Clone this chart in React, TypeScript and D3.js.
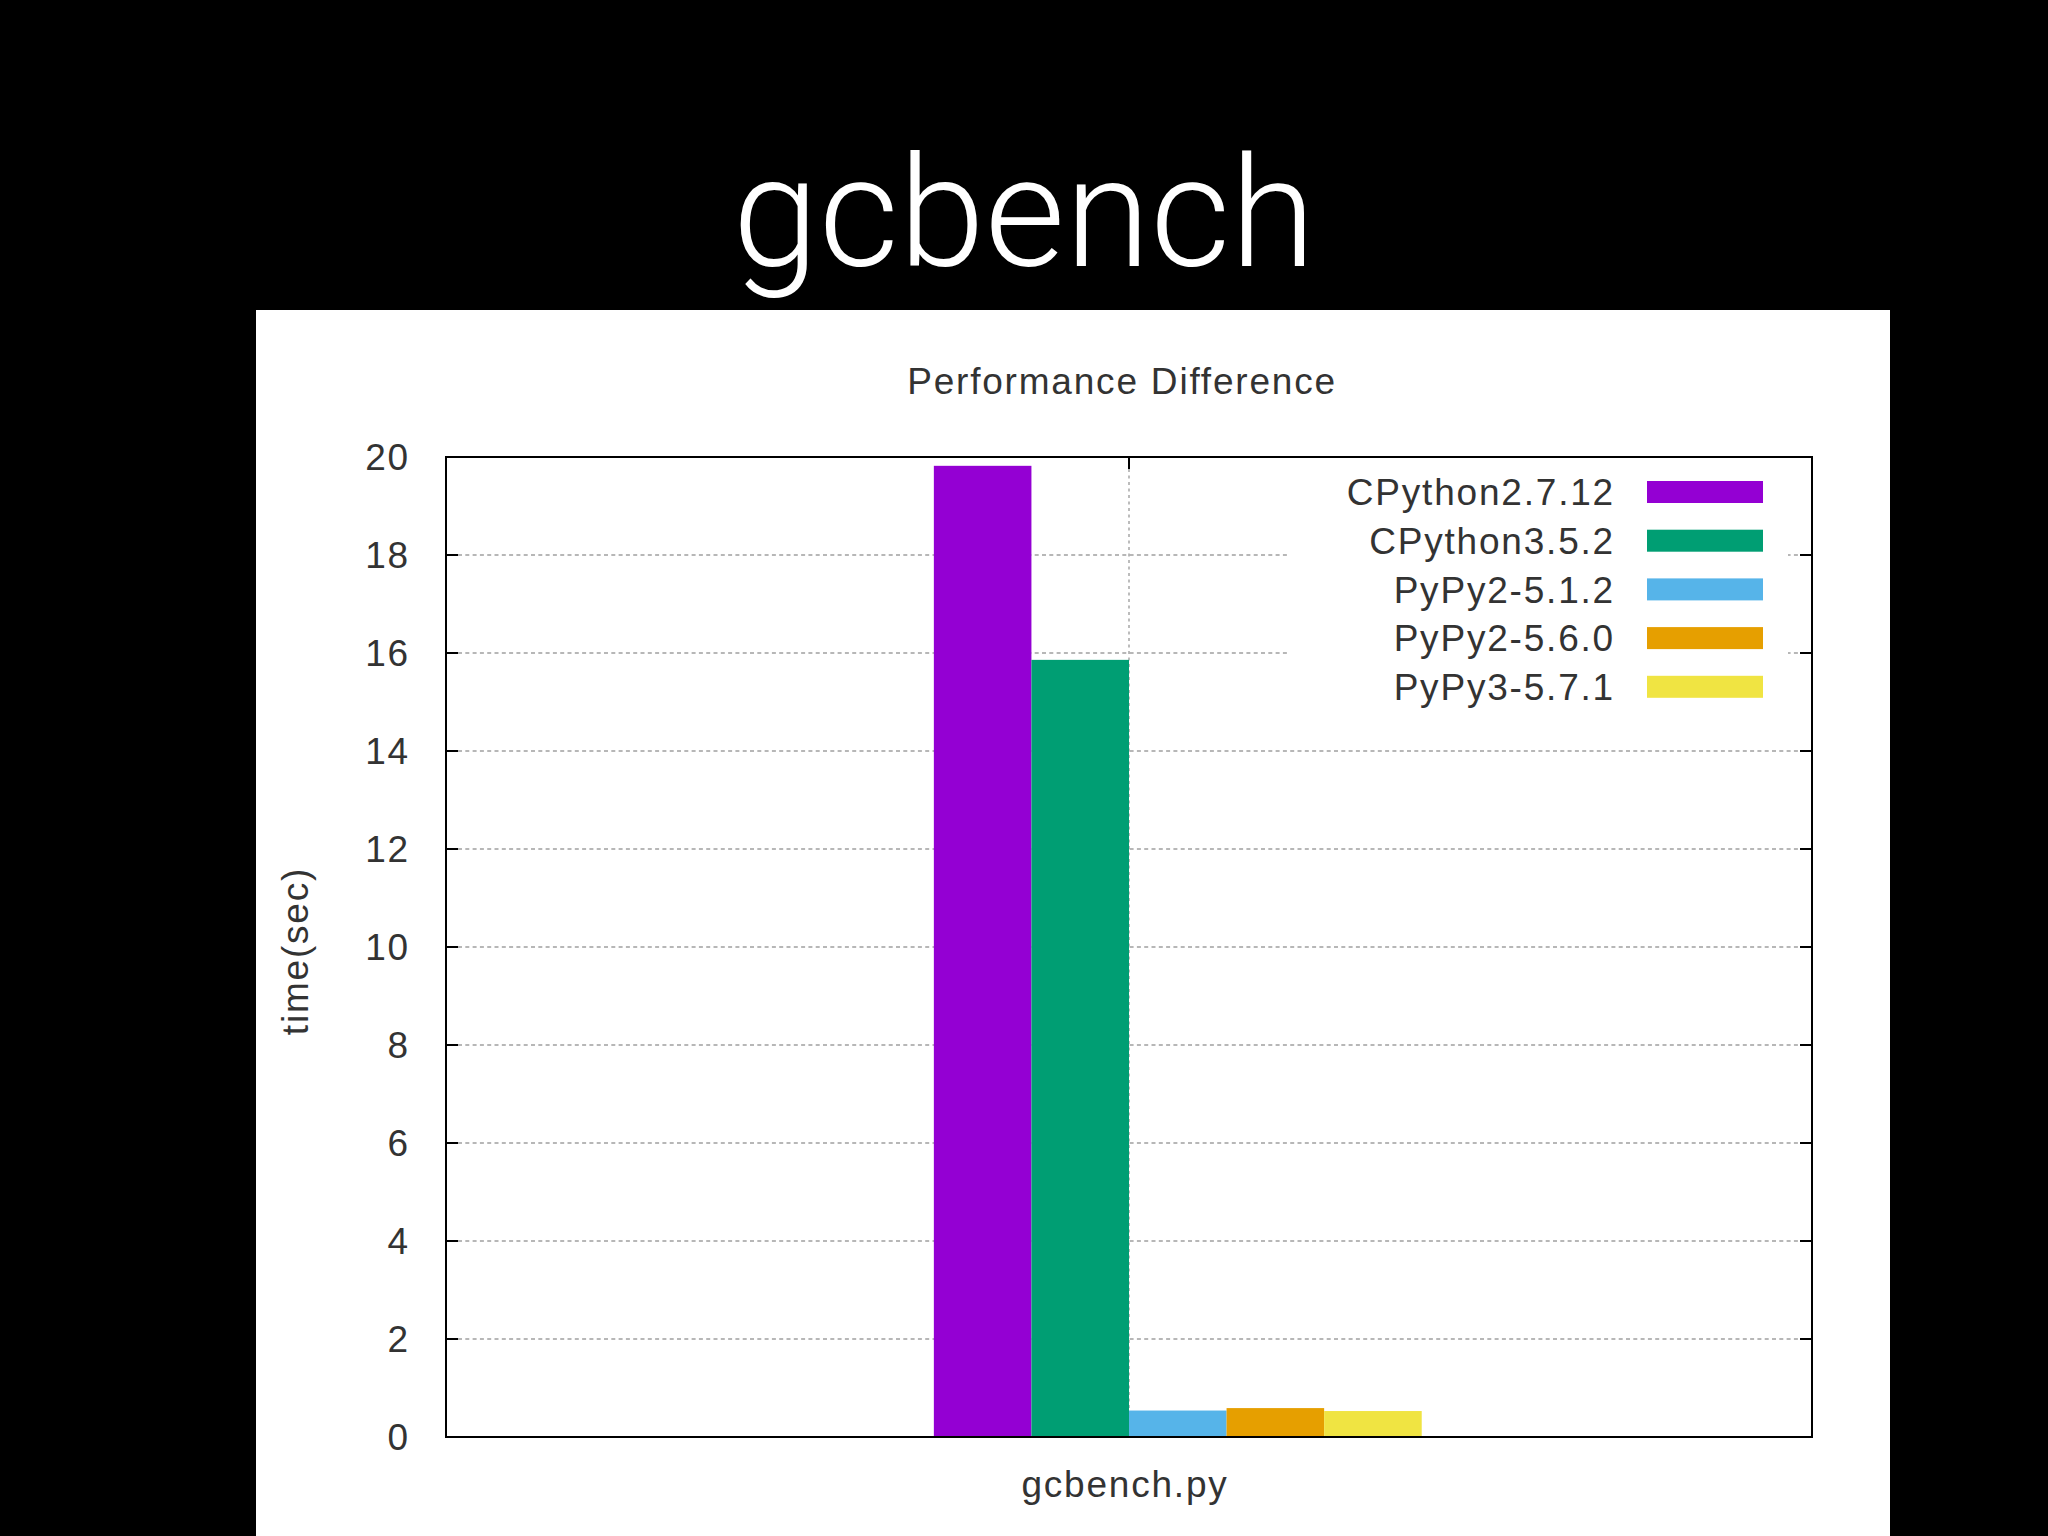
import * as d3 from "d3";

// benchmark results (seconds)
const seriesNames = ["CPython2.7.12", "CPython3.5.2", "PyPy2-5.1.2", "PyPy2-5.6.0", "PyPy3-5.7.1"];
const seriesValues = [19.82, 15.86, 0.54, 0.59, 0.53];
const seriesColors = ["#9400d3", "#009e73", "#56b4e9", "#e69f00", "#f0e442"];
const category = "gcbench.py";
const yTicks = [0, 2, 4, 6, 8, 10, 12, 14, 16, 18, 20];

const W = 2048;
const H = 1536;
const FONT = "'Liberation Sans', Arial, sans-serif";

export default function App() {
  const plot = { left: 446, right: 1812, top: 457, bottom: 1437 };

  const y = d3.scaleLinear().domain([0, 20]).range([plot.bottom, plot.top]);
  const x = d3.scaleLinear().domain([-1, 1]).range([plot.left, plot.right]);

  // gnuplot clustered histogram: 5 boxes of width 1/7 starting at -2/7
  const n = seriesNames.length;
  const boxW = 1 / (n + 2);
  const band = d3
    .scaleBand()
    .domain(seriesNames)
    .range([x(-2 * boxW), x((n - 2) * boxW)])
    .padding(0);

  const tickLen = 12;
  const gridColor = "#a0a0a0";

  // opaque key box
  const key = { x0: 1287, x1: 1788, y0: 466, y1: 712, textRight: 1615, sampleX: 1647, sampleW: 116, row0: 492, rowH: 48.7 };

  return (
    <svg
      width={W}
      height={H}
      style={{ position: "absolute", left: 0, top: 0, display: "block" }}
    >
      <rect x={0} y={0} width={W} height={H} fill="#000" />

      {/* slide title */}
      <text
        x={W / 2}
        y={266}
        textAnchor="middle"
        fontSize={154}
        fontWeight={300}
        fontFamily="Roboto, 'Open Sans', 'Liberation Sans', sans-serif"
        fill="#fff"
        textLength={583}
        lengthAdjust="spacingAndGlyphs"
      >
        gcbench
      </text>

      {/* white chart panel */}
      <rect x={256} y={310} width={1890 - 256} height={H - 310} fill="#fff" />

      <g fontFamily={FONT} fill="#333" letterSpacing={1.8}>
        <text x={1122} y={394} textAnchor="middle" fontSize={37}>
          Performance Difference
        </text>

        {/* grid lines */}
        {yTicks
          .filter((t) => t > 0 && t < 20)
          .map((t) => (
            <line
              key={`g${t}`}
              x1={plot.left + tickLen}
              x2={plot.right - tickLen}
              y1={y(t)}
              y2={y(t)}
              stroke={gridColor}
              strokeWidth={1.4}
              strokeDasharray="4,3.3"
            />
          ))}
        <line
          x1={x(0)}
          x2={x(0)}
          y1={plot.top + tickLen}
          y2={plot.bottom}
          stroke={gridColor}
          strokeWidth={1.4}
          strokeDasharray="3,3.5"
        />

        {/* bars */}
        {seriesNames.map((s, i) => (
          <rect
            key={s}
            x={band(s)}
            y={y(seriesValues[i])}
            width={band.bandwidth()}
            height={y(0) - y(seriesValues[i])}
            fill={seriesColors[i]}
          />
        ))}

        {/* opaque key */}
        <rect x={key.x0} y={key.y0} width={key.x1 - key.x0} height={key.y1 - key.y0} fill="#fff" />
        {seriesNames.map((s, i) => {
          const cy = key.row0 + i * key.rowH;
          return (
            <g key={`k${s}`}>
              <text x={key.textRight} y={cy} dy="0.36em" textAnchor="end" fontSize={37}>
                {s}
              </text>
              <rect x={key.sampleX} y={cy - 11} width={key.sampleW} height={22} fill={seriesColors[i]} />
            </g>
          );
        })}

        {/* y ticks and labels */}
        {yTicks.map((t) => (
          <g key={`t${t}`}>
            <line x1={plot.left} x2={plot.left + tickLen} y1={y(t)} y2={y(t)} stroke="#000" strokeWidth={2} />
            <line x1={plot.right - tickLen} x2={plot.right} y1={y(t)} y2={y(t)} stroke="#000" strokeWidth={2} />
            <text x={410} y={y(t)} dy="0.36em" textAnchor="end" fontSize={37}>
              {t}
            </text>
          </g>
        ))}

        {/* x tick */}
        <line x1={x(0)} x2={x(0)} y1={plot.top} y2={plot.top + tickLen} stroke="#000" strokeWidth={2} />
        <text x={x(0) - 4} y={1497} textAnchor="middle" fontSize={37}>
          {category}
        </text>

        {/* y label */}
        <text
          transform={`translate(308, 951) rotate(-90)`}
          textAnchor="middle"
          fontSize={37}
        >
          time(sec)
        </text>

        {/* frame */}
        <rect
          x={plot.left}
          y={plot.top}
          width={plot.right - plot.left}
          height={plot.bottom - plot.top}
          fill="none"
          stroke="#000"
          strokeWidth={2}
        />
      </g>
    </svg>
  );
}
